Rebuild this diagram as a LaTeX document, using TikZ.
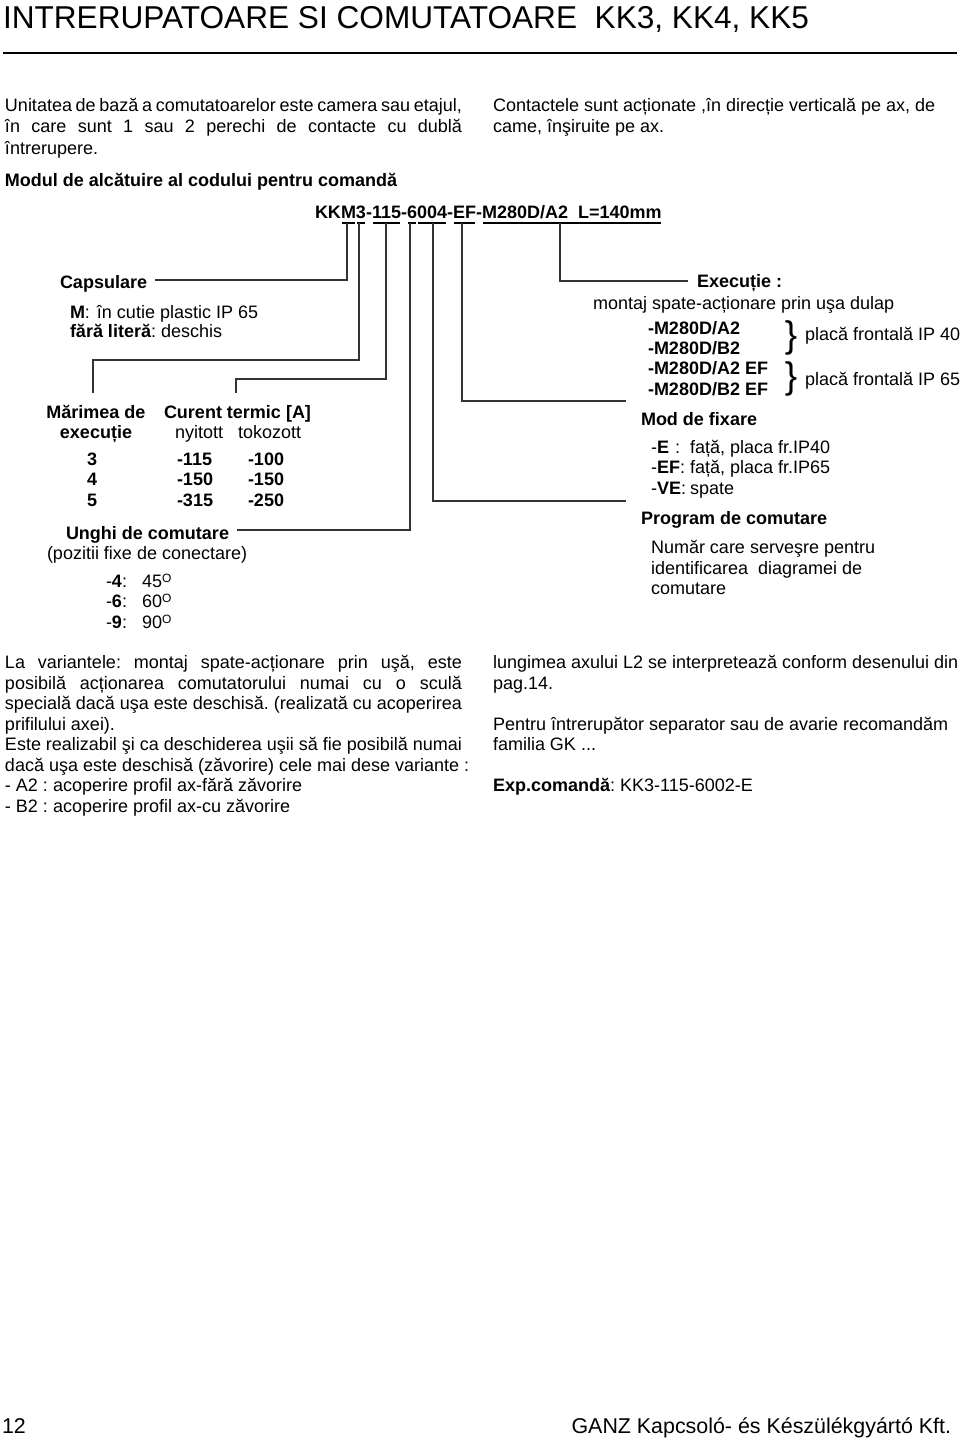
\documentclass[tikz,border=0pt]{standalone}
\usepackage{fontspec}
\setmainfont{Liberation Sans}
\usetikzlibrary{decorations.pathreplacing}
\newcommand\degO{\raisebox{5pt}{\fontsize{12}{12}\selectfont O}}
\begin{document}
\frenchspacing
\begin{tikzpicture}[x=1pt,y=-1pt,
  txt/.style={anchor=base west, inner sep=0pt, outer sep=0pt, font=\fontsize{18}{20.6}\selectfont},
  btxt/.style={txt, font=\fontsize{18}{20.6}\selectfont\bfseries},
  conn/.style={draw=black!80, line width=1.3pt},
  uline/.style={draw=black, line width=2.2pt},
  bracech/.style={inner sep=0pt, outer sep=0pt, font=\fontsize{37}{37}\selectfont},
  foot/.style={txt, font=\fontsize{21.4}{21.4}\selectfont}]
\fill[white] (0,0) rectangle (960,1440);
\useasboundingbox (0,0) rectangle (960,1440);

% title
\node[txt, font=\fontsize{31.6}{31.6}\selectfont] (title) at (3,28) {INTRERUPATOARE SI COMUTATOARE~~KK3, KK4, KK5};
\coordinate (rl) at (3,53);
\coordinate (rr) at (957,53);
\draw[line width=2.5pt] (rl) -- (rr);

% top text
\node[txt] (p1) at (5,111) {\makebox[457pt][s]{Unitatea de bază a comutatoarelor este camera sau etajul,}};
\node[txt] (p2) at (5,132.5) {\makebox[457pt][s]{în care sunt 1 sau 2 perechi de contacte cu dublă}};
\node[txt] (p3) at (5,154) {întrerupere.};
\node[btxt] (p4) at (5,186) {Modul de alcătuire al codului pentru comandă};
\node[txt] (q1) at (493,111) {Contactele sunt acționate ,în direcție verticală pe ax, de};
\node[txt] (q2) at (493,132.5) {came, înşiruite pe ax.};

% code
\node[btxt] (kK) at (315,218) {KK};
\node[btxt] (kM) at (kK.base east) {M};
\node[btxt] (k3) at (kM.base east) {3};
\node[btxt] (kd1) at (k3.base east) {-};
\node[btxt] (k115) at (kd1.base east) {115};
\node[btxt] (kd2) at (k115.base east) {-};
\node[btxt] (k6) at (kd2.base east) {6};
\node[btxt] (k004) at (k6.base east) {004};
\node[btxt] (kd3) at (k004.base east) {-};
\node[btxt] (kEF) at (kd3.base east) {EF};
\node[btxt] (kd4) at (kEF.base east) {-};
\node[btxt] (kMD) at (kd4.base east) {M280D/A2~~L=140mm};
\foreach \n in {kM,k3,k115,k6,k004,kEF,kMD}
  \draw[uline] ([xshift=1pt,yshift=-5pt]\n.base west) -- ([xshift=-1pt,yshift=-5pt]\n.base east);

% connector coordinates
\coordinate (uM) at (347,223);
\coordinate (u3) at (359,223);
\coordinate (u115) at (386,223);
\coordinate (u6) at (410,223);
\coordinate (u004) at (433,223);
\coordinate (uEF) at (462,223);
\coordinate (uMD) at (560,223);
\coordinate (eCaps) at (155,280);
\coordinate (eMar0) at (93,360);
\coordinate (eMar) at (93,393);
\coordinate (eCur0) at (236,379);
\coordinate (eCur) at (236,393);
\coordinate (eUng) at (237,530);
\coordinate (eProg) at (626,501);
\coordinate (eMod) at (626,401);
\coordinate (eExe) at (688,281);
\draw[conn] (uM) |- (eCaps);
\draw[conn] (u3) |- (eMar0) -- (eMar);
\draw[conn] (u115) |- (eCur0) -- (eCur);
\draw[conn] (u6) |- (eUng);
\draw[conn] (u004) |- (eProg);
\draw[conn] (uEF) |- (eMod);
\draw[conn] (uMD) |- (eExe);

% left block
\node[btxt] (caps) at (60,288) {Capsulare};
\node[txt] (capsM) at (70,318) {\textbf{M}:\hspace{7pt}în cutie plastic IP 65};
\node[txt] (capsF) at (70,337) {\textbf{fără literă}: deschis};
\node[btxt, anchor=base] (mar1) at (96,418) {Mărimea de};
\node[btxt, anchor=base] (mar2) at (96,438) {execuție};
\node[btxt] (cur) at (164,418) {Curent termic [A]};
\node[txt] (nyi) at (175,438) {nyitott};
\node[txt] (tok) at (238,438) {tokozott};
\node[btxt] (r3) at (87,465) {3};
\node[btxt] (r3a) at (177,465) {-115};
\node[btxt] (r3b) at (248,465) {-100};
\node[btxt] (r4) at (87,485.5) {4};
\node[btxt] (r4a) at (177,485.5) {-150};
\node[btxt] (r4b) at (248,485.5) {-150};
\node[btxt] (r5) at (87,506) {5};
\node[btxt] (r5a) at (177,506) {-315};
\node[btxt] (r5b) at (248,506) {-250};
\node[btxt] (ung) at (66,539) {Unghi de comutare};
\node[txt] (poz) at (47,559) {(pozitii fixe de conectare)};
\node[txt] (a4) at (106,587) {-\textbf{4}:};
\node[txt] (a4v) at (142,587) {45\degO};
\node[txt] (a6) at (106,607.5) {-\textbf{6}:};
\node[txt] (a6v) at (142,607.5) {60\degO};
\node[txt] (a9) at (106,628) {-\textbf{9}:};
\node[txt] (a9v) at (142,628) {90\degO};

% right block
\node[btxt] (exe) at (697,287) {Execuție :};
\node[txt] (mon) at (593,309) {montaj spate-acționare prin uşa dulap};
\node[btxt] (v1) at (648,334) {-M280D/A2};
\node[btxt] (v2) at (648,354) {-M280D/B2};
\node[btxt] (v3) at (648,374) {-M280D/A2 EF};
\node[btxt] (v4) at (648,395) {-M280D/B2 EF};
\node[bracech] (br1) at (791,338) {\}};
\node[bracech] (br2) at (791,379) {\}};
\node[txt] (pf1) at (805,340) {placă frontală IP 40};
\node[txt] (pf2) at (805,385) {placă frontală IP 65};
\node[btxt] (mod) at (641,425) {Mod de fixare};
\node[txt] (mE) at (651,453) {-\textbf{E}\hspace{6pt}:};
\node[txt] (mEt) at (690,453) {față, placa fr.IP40};
\node[txt] (mEF) at (651,473) {-\textbf{EF}:};
\node[txt] (mEFt) at (690,473) {față, placa fr.IP65};
\node[txt] (mVE) at (651,494) {-\textbf{VE}:};
\node[txt] (mVEt) at (690,494) {spate};
\node[btxt] (prog) at (641,524) {Program de comutare};
\node[txt] (n1) at (651,553) {Număr care serveşre pentru};
\node[txt] (n2) at (651,574) {identificarea~~diagramei de};
\node[txt] (n3) at (651,594) {comutare};

% bottom text
\node[txt] (l1) at (5,668.5) {\makebox[457pt][s]{La variantele: montaj spate-acționare prin uşă, este}};
\node[txt] (l2) at (5,689.1) {\makebox[457pt][s]{posibilă acționarea comutatorului numai cu o sculă}};
\node[txt] (l3) at (5,709.6) {\makebox[457pt][s]{specială dacă uşa este deschisă. (realizată cu acoperirea}};
\node[txt] (l4) at (5,730.2) {prifilului axei).};
\node[txt] (l5) at (5,750.8) {\makebox[457pt][s]{Este realizabil şi ca deschiderea uşii să fie posibilă numai}};
\node[txt] (l6) at (5,771.4) {dacă uşa este deschisă (zăvorire) cele mai dese variante :};
\node[txt] (l7) at (5,791.9) {- A2 : acoperire profil ax-fără zăvorire};
\node[txt] (l8) at (5,812.5) {- B2 : acoperire profil ax-cu zăvorire};
\node[txt] (s1) at (493,668.5) {lungimea axului L2 se interpretează conform desenului din};
\node[txt] (s2) at (493,689.1) {pag.14.};
\node[txt] (s3) at (493,730.2) {Pentru întrerupător separator sau de avarie recomandăm};
\node[txt] (s4) at (493,750.8) {familia GK ...};
\node[txt] (s5) at (493,791.9) {\textbf{Exp.comandă}: KK3-115-6002-E};

% footer
\node[foot] (pg) at (2,1433) {12};
\node[foot, anchor=base east] (ganz) at (951,1433) {GANZ Kapcsoló- és Készülékgyártó Kft.};
\end{tikzpicture}
\end{document}
